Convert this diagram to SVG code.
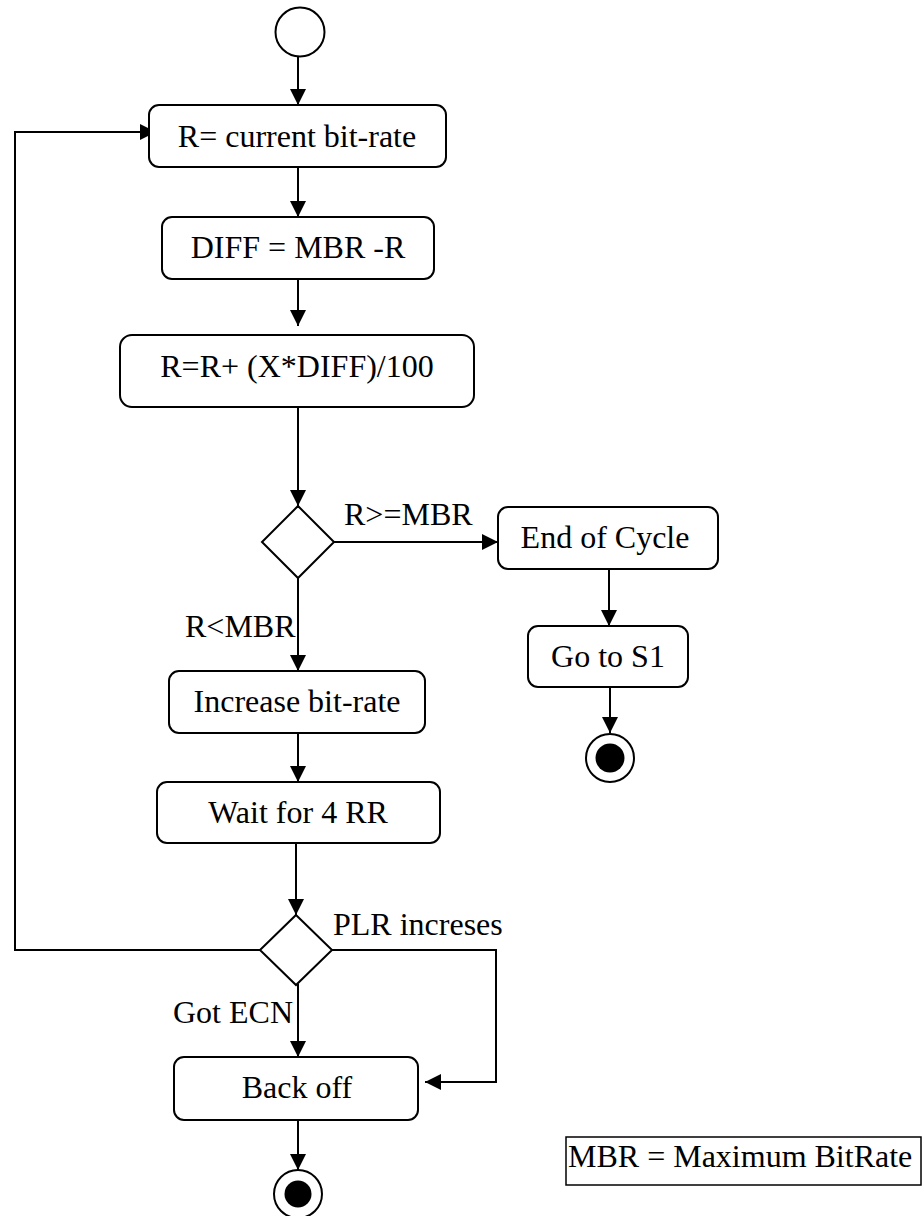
<svg xmlns="http://www.w3.org/2000/svg" width="923" height="1216" viewBox="0 0 923 1216">
  <style>
    .box { fill: #fff; stroke: #000; stroke-width: 2; }
    .dec { fill: #fff; stroke: #000; stroke-width: 2; }
    .edge { fill: none; stroke: #000; stroke-width: 2; }
    .lbl { font-family: "Liberation Serif", "Times New Roman", serif; font-size: 32px; fill: #000; }
    .mid { text-anchor: middle; }
  </style>
  <defs>
    <marker id="arr" viewBox="0 0 16 16" refX="16" refY="8" markerWidth="16" markerHeight="16" markerUnits="userSpaceOnUse" orient="auto">
      <path d="M0,0 L16,8 L0,16 Z" fill="#000"/>
    </marker>
  </defs>

  <rect width="923" height="1216" fill="#fff"/>

  <!-- connectors -->
  <g id="connectors">
    <line class="edge" x1="298" y1="57" x2="298" y2="105" marker-end="url(#arr)"/>
    <line class="edge" x1="298" y1="167" x2="298" y2="217" marker-end="url(#arr)"/>
    <line class="edge" x1="298" y1="279" x2="298" y2="326" marker-end="url(#arr)"/>
    <line class="edge" x1="298" y1="407" x2="298" y2="506" marker-end="url(#arr)"/>
    <line class="edge" x1="334" y1="542" x2="498" y2="542" marker-end="url(#arr)"/>
    <line class="edge" x1="609" y1="569" x2="609" y2="626" marker-end="url(#arr)"/>
    <line class="edge" x1="610" y1="687" x2="610" y2="733" marker-end="url(#arr)"/>
    <line class="edge" x1="298" y1="578" x2="298" y2="671" marker-end="url(#arr)"/>
    <line class="edge" x1="298" y1="733" x2="298" y2="782" marker-end="url(#arr)"/>
    <line class="edge" x1="296" y1="843" x2="296" y2="915" marker-end="url(#arr)"/>
    <polyline class="edge" points="260,950 15,950 15,132 156,132" marker-end="url(#arr)"/>
    <polyline class="edge" points="332,950 496,950 496,1082 425,1082" marker-end="url(#arr)"/>
    <line class="edge" x1="298" y1="984" x2="298" y2="1057" marker-end="url(#arr)"/>
    <line class="edge" x1="298" y1="1120" x2="298" y2="1170" marker-end="url(#arr)"/>
  </g>

  <!-- edge labels -->
  <g id="edge-labels">
    <text class="lbl" x="344" y="525">R&gt;=MBR</text>
    <text class="lbl" x="185" y="637">R&lt;MBR</text>
    <text class="lbl" x="333" y="935">PLR increses</text>
    <text class="lbl" x="173" y="1023">Got ECN</text>
  </g>

  <g id="start">
    <circle cx="300" cy="32" r="24.5" fill="#fff" stroke="#000" stroke-width="2"/>
  </g>

  <g id="current-rate">
    <rect class="box" x="149" y="105" width="297" height="62" rx="10"/>
    <text class="lbl mid" x="297" y="147">R= current bit-rate</text>
  </g>

  <g id="diff">
    <rect class="box" x="162" y="217" width="272" height="62" rx="10"/>
    <text class="lbl mid" x="298" y="258">DIFF = MBR -R</text>
  </g>

  <g id="update-rate">
    <rect class="box" x="120" y="335" width="354" height="72" rx="12"/>
    <text class="lbl mid" x="297" y="377">R=R+ (X*DIFF)/100</text>
  </g>

  <g id="check-max">
    <polygon class="dec" points="298,506 334,542 298,578 262,542"/>
  </g>

  <g id="end-of-cycle">
    <rect class="box" x="498" y="507" width="220" height="62" rx="10"/>
    <text class="lbl mid" x="605" y="548">End of Cycle</text>
  </g>

  <g id="go-to-s1">
    <rect class="box" x="528" y="626" width="160" height="61" rx="10"/>
    <text class="lbl mid" x="608" y="667">Go to S1</text>
  </g>

  <g id="final-1">
    <circle cx="610" cy="758" r="24" fill="#fff" stroke="#000" stroke-width="2"/>
    <circle cx="610" cy="758" r="14.5" fill="#000"/>
  </g>

  <g id="increase">
    <rect class="box" x="169" y="671" width="256" height="62" rx="10"/>
    <text class="lbl mid" x="297" y="712">Increase bit-rate</text>
  </g>

  <g id="wait">
    <rect class="box" x="157" y="782" width="283" height="61" rx="10"/>
    <text class="lbl mid" x="298" y="823">Wait for 4 RR</text>
  </g>

  <g id="check-loss">
    <polygon class="dec" points="296,915 332,950 296,985 260,950"/>
  </g>

  <g id="back-off">
    <rect class="box" x="174" y="1057" width="244" height="63" rx="10"/>
    <text class="lbl mid" x="297" y="1098">Back off</text>
  </g>

  <g id="final-2">
    <circle cx="298" cy="1194" r="24" fill="#fff" stroke="#000" stroke-width="2"/>
    <circle cx="298" cy="1194" r="13.5" fill="#000"/>
  </g>

  <g id="legend">
    <rect x="566" y="1137" width="355" height="48" fill="#fff" stroke="#000" stroke-width="1.5"/>
    <text class="lbl" x="568" y="1167">MBR = Maximum BitRate</text>
  </g>
</svg>
